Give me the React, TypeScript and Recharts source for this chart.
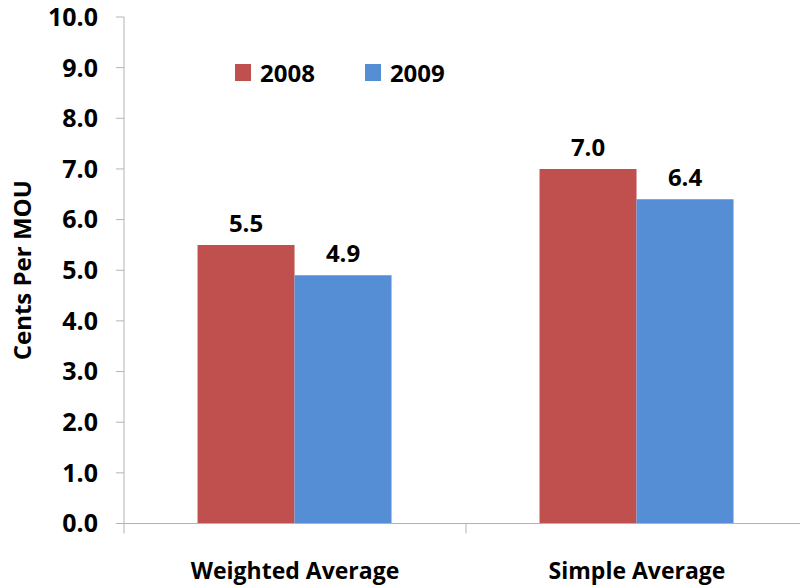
import { BarChart, Bar, XAxis, YAxis, LabelList, Legend } from 'recharts'

const categories = ['Weighted Average', 'Simple Average']
const values2008 = [5.5, 7.0]
const values2009 = [4.9, 6.4]
const yTicks = [0, 1, 2, 3, 4, 5, 6, 7, 8, 9, 10]

const series = [
  { key: 'y2008', name: '2008', color: '#C0504D' },
  { key: 'y2009', name: '2009', color: '#558ED5' },
]

const data = categories.map((name, i) => ({
  name,
  y2008: values2008[i],
  y2009: values2009[i],
}))

const FONT = '"Open Sans", "DejaVu Sans", sans-serif'
const AXIS_COLOR = '#B3B3B3'

const CHART_W = 820
const CHART_H = 585
const MARGIN = { top: 17, right: 12, left: 0, bottom: 0 }
const Y_AXIS_W = 124
const X_AXIS_H = 61.5
const PLOT_W = CHART_W - MARGIN.left - MARGIN.right - Y_AXIS_W
const HALF_BAND = PLOT_W / categories.length / 2

// category label plus the short divider ticks between categories
const CategoryTick = (props: any) => {
  const { x, y, payload, index } = props
  const left = x - HALF_BAND
  const right = x + HALF_BAND
  return (
    <g>
      <line x1={left} y1={y} x2={left} y2={y + 10} stroke={AXIS_COLOR} />
      {index === categories.length - 1 && (
        <line x1={right} y1={y} x2={right} y2={y + 10} stroke={AXIS_COLOR} />
      )}
      <text
        x={x}
        y={y + 55}
        textAnchor="middle"
        fill="#000"
        fontFamily={FONT}
        fontSize={23}
        fontWeight={700}
      >
        {payload.value}
      </text>
    </g>
  )
}

const renderLegend = () => (
  <div style={{ display: 'flex', alignItems: 'center', fontFamily: FONT }}>
    {series.map((s) => (
      <div
        key={s.key}
        style={{ display: 'flex', alignItems: 'center', marginRight: 50 }}
      >
        <span
          style={{
            display: 'inline-block',
            width: 16,
            height: 17,
            background: s.color,
            marginRight: 9,
          }}
        />
        <span style={{ fontSize: 24, fontWeight: 700, color: '#000' }}>
          {s.name}
        </span>
      </div>
    ))}
  </div>
)

export default function App() {
  return (
    <div
      style={{
        position: 'fixed',
        top: 0,
        left: 0,
        width: 800,
        height: 585,
        overflow: 'hidden',
        background: '#fff',
      }}
    >
      <BarChart
        width={CHART_W}
        height={CHART_H}
        data={data}
        margin={MARGIN}
        barCategoryGap="21.5%"
        barGap={0}
      >
        <XAxis
          dataKey="name"
          height={X_AXIS_H}
          tickLine={false}
          tickSize={0}
          tickMargin={0}
          axisLine={{ stroke: AXIS_COLOR }}
          tick={<CategoryTick />}
          interval={0}
        />
        <YAxis
          width={Y_AXIS_W}
          domain={[0, 10]}
          ticks={yTicks}
          interval={0}
          tickFormatter={(v: number) => v.toFixed(1)}
          tickSize={8}
          tickMargin={18}
          axisLine={{ stroke: AXIS_COLOR }}
          tickLine={{ stroke: AXIS_COLOR }}
          tick={{
            fill: '#000',
            fontSize: 25,
            fontWeight: 700,
            fontFamily: FONT,
          }}
          label={({ viewBox }: any) => (
            <text
              x={21}
              y={viewBox.y + viewBox.height / 2}
              transform={`rotate(-90, 21, ${viewBox.y + viewBox.height / 2})`}
              textAnchor="middle"
              dominantBaseline="central"
              fill="#000"
              fontFamily={FONT}
              fontSize={24}
              fontWeight={700}
            >
              Cents Per MOU
            </text>
          )}
        />
        <Legend
          layout="horizontal"
          verticalAlign="middle"
          align="center"
          content={renderLegend}
          wrapperStyle={{ top: 56, left: 235, width: 300, height: 34 }}
        />
        {series.map((s) => (
          <Bar
            key={s.key}
            dataKey={s.key}
            name={s.name}
            fill={s.color}
            isAnimationActive={false}
          >
            <LabelList
              dataKey={s.key}
              position="top"
              offset={13}
              formatter={(v: any) => Number(v).toFixed(1)}
              fill="#000"
              fontFamily={FONT}
              fontSize={24}
              fontWeight={700}
            />
          </Bar>
        ))}
      </BarChart>
    </div>
  )
}
